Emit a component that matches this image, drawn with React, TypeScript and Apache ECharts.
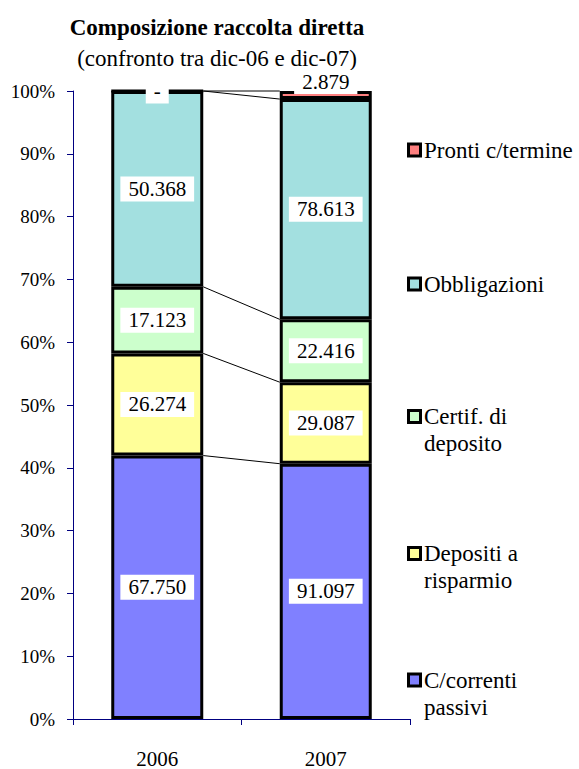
import React, { useEffect, useRef } from "react";
import * as echarts from "echarts";

const categories = ["2006", "2007"];
const seriesNames = [
  "C/correnti passivi",
  "Depositi a risparmio",
  "Certif. di deposito",
  "Obbligazioni",
  "Pronti c/termine",
];
const cCorrenti = [67750, 91097];
const depositiRisparmio = [26274, 29087];
const certifDeposito = [17123, 22416];
const obbligazioni = [50368, 78613];
const prontiTermine = [0, 2879];

const legendLabels = [
  "C/correnti\npassivi",
  "Depositi a\nrisparmio",
  "Certif. di\ndeposito",
  "Obbligazioni",
  "Pronti c/termine",
];

const COLORS = ["#8080FF", "#FFFF99", "#CCFFCC", "#A3E0E0", "#FF8080"];
const FONT = "Liberation Serif";
const AXIS = "#000080";
const BAR_W = 92;

function fmt(v: number): string {
  if (v === 0) return "-";
  return String(v).replace(/\B(?=(\d{3})+(?!\d))/g, ".");
}

export default function App() {
  const ref = useRef<HTMLDivElement>(null);

  useEffect(() => {
    document.body.style.margin = "0";
    if (!ref.current) return;
    const chart = echarts.init(ref.current, null, { renderer: "svg" });

    const raw = [cCorrenti, depositiRisparmio, certifDeposito, obbligazioni, prontiTermine];
    const totals = categories.map((_, i) => raw.reduce((s, arr) => s + arr[i], 0));
    const pct = raw.map((arr) => arr.map((v, i) => (v / totals[i]) * 100));
    const cum: number[][] = [];
    const run = categories.map(() => 0);
    pct.forEach((arr) => {
      arr.forEach((v, i) => (run[i] += v));
      cum.push([0, run[0], run[1]]);
    });

    const barSeries = raw.map((arr, s) => ({
      name: seriesNames[s],
      type: "bar",
      stack: "total",
      barWidth: BAR_W,
      z: 2,
      itemStyle: { color: COLORS[s], borderColor: "#000", borderWidth: 3 },
      label: {
        show: true,
        position: "inside",
        formatter: (p: any) => fmt(arr[p.dataIndex]),
        fontFamily: FONT,
        fontSize: 21,
        color: "#000",
        backgroundColor: "#fff",
        padding: [2, 8],
      },
      data: pct[s].map((v) =>
        v > 0 && v < 3
          ? { value: v, label: { offset: [0, -13], padding: [0, 8, 3, 8] } }
          : { value: v }
      ),
    }));

    const lineSeries = {
      type: "custom",
      z: 1,
      silent: true,
      encode: { x: 0, y: [1, 2] },
      renderItem: (_params: any, api: any) => {
        const p0 = api.coord([0, api.value(1)]);
        const p1 = api.coord([1, api.value(2)]);
        return {
          type: "line",
          shape: { x1: p0[0] + BAR_W / 2, y1: p0[1], x2: p1[0] - BAR_W / 2, y2: p1[1] },
          style: { stroke: "#000", lineWidth: 1 },
        };
      },
      data: cum,
    };

    const legendCenters = [680, 553.5, 416.5, 284, 150];
    const legendGraphics: any[] = [];
    legendLabels.forEach((lbl, s) => {
      const cy = legendCenters[s];
      legendGraphics.push({
        type: "rect",
        shape: { x: 408.5, y: cy - 6, width: 12, height: 12 },
        style: { fill: COLORS[s], stroke: "#000", lineWidth: 3 },
      });
      lbl.split("\n").forEach((line, k) => {
        legendGraphics.push({
          type: "text",
          x: 424,
          y: cy + k * 27,
          style: {
            text: line,
            fontFamily: FONT,
            fontSize: 23,
            fill: "#000",
            align: "left",
            verticalAlign: "middle",
          },
        });
      });
    });

    chart.setOption({
      animation: false,
      backgroundColor: "#fff",
      grid: { left: 73, right: 169, top: 91, bottom: 48, containLabel: false },
      xAxis: {
        type: "category",
        data: categories,
        axisLine: { show: true, lineStyle: { color: AXIS, width: 1 } },
        axisTick: { show: true, length: 6, lineStyle: { color: AXIS } },
        axisLabel: { fontFamily: FONT, fontSize: 21, color: "#000", margin: 29 },
        splitLine: { show: false },
      },
      yAxis: {
        type: "value",
        min: 0,
        max: 100,
        interval: 10,
        axisLine: { show: true, lineStyle: { color: AXIS, width: 1 } },
        axisTick: { show: true, length: 6, lineStyle: { color: AXIS } },
        axisLabel: { formatter: "{value}%", fontFamily: FONT, fontSize: 19, color: "#000", margin: 18 },
        splitLine: { show: false },
      },
      graphic: [
        {
          type: "text",
          x: 217,
          y: 27.5,
          style: {
            text: "Composizione raccolta diretta",
            fontFamily: FONT,
            fontSize: 23,
            fontWeight: "bold",
            fill: "#000",
            align: "center",
            verticalAlign: "middle",
          },
        },
        {
          type: "text",
          x: 217,
          y: 58.5,
          style: {
            text: "(confronto tra dic-06 e dic-07)",
            fontFamily: FONT,
            fontSize: 23,
            fill: "#000",
            align: "center",
            verticalAlign: "middle",
          },
        },
        ...legendGraphics,
      ],
      series: [lineSeries, ...barSeries],
    });

    return () => chart.dispose();
  }, []);

  return <div ref={ref} style={{ width: 579, height: 769 }} />;
}
